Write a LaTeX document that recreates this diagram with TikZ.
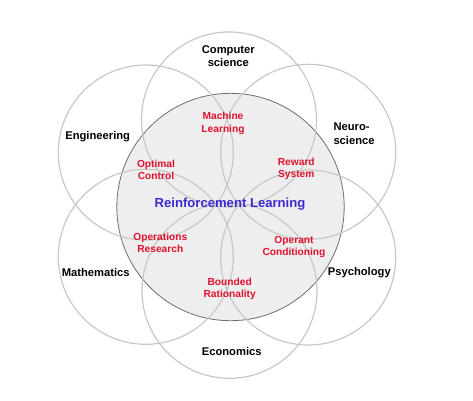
\documentclass[tikz,border=0pt]{standalone}
\usepackage{fontspec}
\setmainfont{Liberation Sans}
\usepackage{xcolor}
\usepackage{tikz}
\definecolor{ringgrey}{HTML}{C8C8C8}
\definecolor{coregrey}{HTML}{EEEEEE}
\definecolor{coreedge}{HTML}{6E6E6E}
\definecolor{fieldred}{HTML}{E0102E}
\definecolor{rlblue}{HTML}{3C28D2}

\begin{document}
\begin{tikzpicture}[x=1pt,y=-1pt]
  \useasboundingbox (0,0) rectangle (473,400);
  % core circle
  \filldraw[fill=coregrey,draw=coreedge,line width=0.8pt] (230.5,207) circle (113.7);
  % outer discipline rings
  \foreach \cx/\cy in {229/119.5, 229.5/290.8, 145.8/152.5, 145.8/256.8, 308.2/151.8, 308.2/257.5} {
    \draw[ringgrey,line width=1.2pt] (\cx,\cy) circle (87.5);
  }
  % disciplines
  \foreach \nm/\x/\y/\lbl in {
      cs/228.3/56/{Computer\\science},
      eng/97.7/136.3/{Engineering},
      math/95.7/272.3/{Mathematics},
      psych/359.3/272.7/{Psychology},
      econ/231.7/351.7/{Economics}} {
    \node[inner sep=0pt,align=center,font=\fontsize{11.2}{13.3}\selectfont\bfseries] (\nm) at (\x,\y) {\lbl};
  }
  \node[inner sep=0pt,align=left,anchor=west,font=\fontsize{11.2}{13.3}\selectfont\bfseries] (neuro) at (333.3,133.8) {Neuro-\\science};
  % overlapping fields
  \foreach \nm/\x/\y/\lbl in {
      ml/223/123.7/{Machine\\Learning},
      oc/156/169.7/{Optimal\\Control},
      rs/296.3/169/{Reward\\System},
      ors/160.3/242.7/{Operations\\Research},
      opc/294/247/{Operant\\Conditioning},
      br/229.7/289/{Bounded\\Rationality}} {
    \node[fieldred,inner sep=0pt,align=center,font=\fontsize{10.2}{12.7}\selectfont\bfseries] (\nm) at (\x,\y) {\lbl};
  }
  \node[rlblue,inner sep=0pt,font=\fontsize{13.1}{15}\selectfont\bfseries] (rl) at (230,204) {Reinforcement Learning};
\end{tikzpicture}
\end{document}
